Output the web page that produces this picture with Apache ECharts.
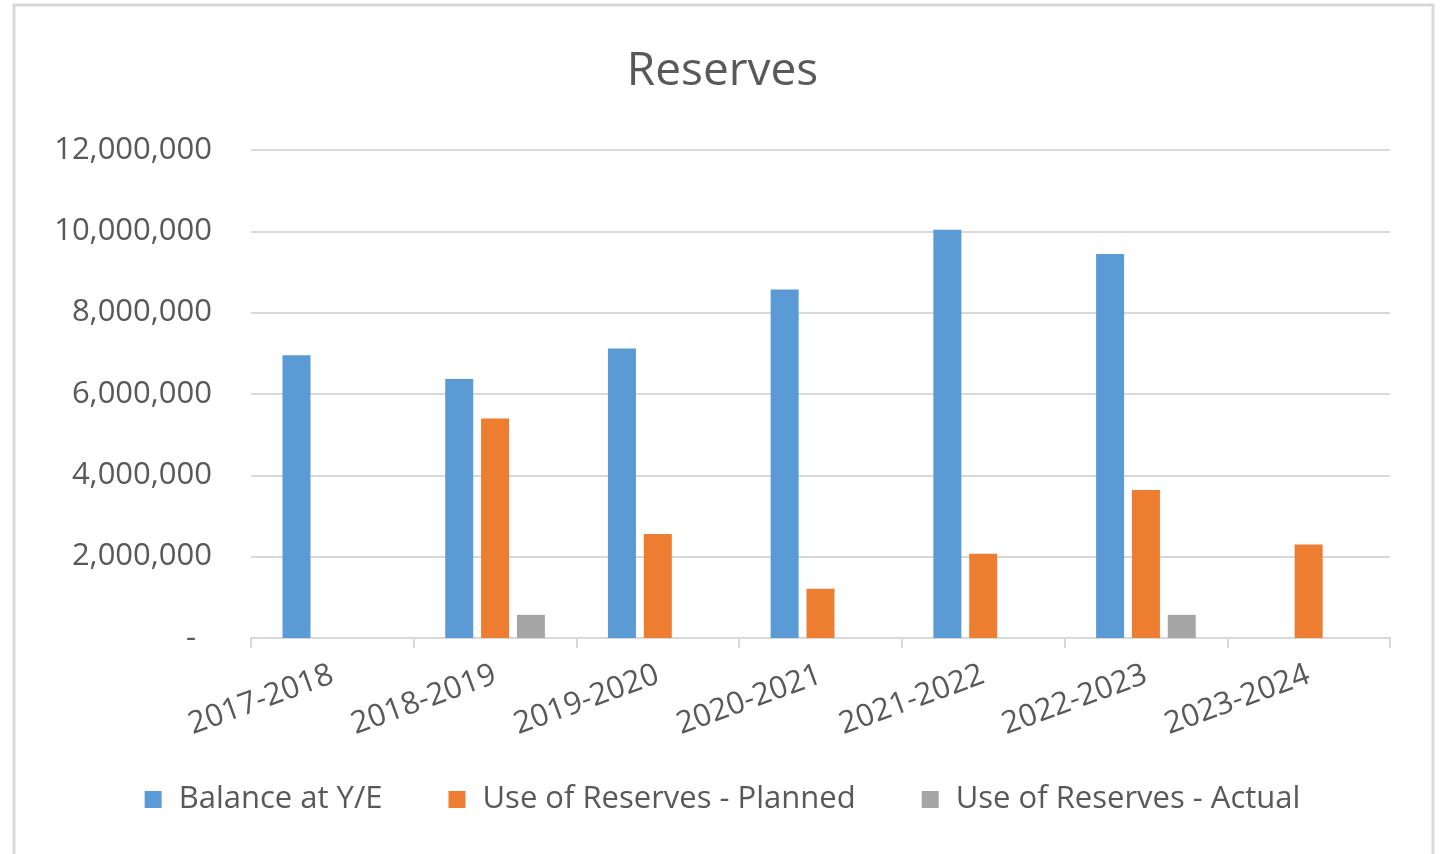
<!DOCTYPE html>
<html>
<head>
<meta charset="utf-8">
<script src="https://cdn.jsdelivr.net/npm/echarts@6/dist/echarts.min.js"></script>
<style>
html, body { margin: 0; padding: 0; background: #fff; }
#chart { width: 1445px; height: 854px; }
</style>
</head>
<body>
<div id="chart"></div>
<script>
// 年度
const years = ['2017-2018', '2018-2019', '2019-2020', '2020-2021', '2021-2022', '2022-2023', '2023-2024']
// 各系列数值
const balance = [6950000, 6370000, 7120000, 8570000, 10040000, 9440000, null]
const planned = [null, 5400000, 2560000, 1210000, 2070000, 3640000, 2300000]
const actual = [null, 570000, null, null, null, 570000, null]
const yTicks = [0, 2000000, 4000000, 6000000, 8000000, 10000000, 12000000]

const textColor = '#595959'
const font = 'Open Sans'

const myChart = echarts.init(document.getElementById('chart'))

const bar = (name, data, color) => ({
    name: name,
    type: 'bar',
    data: data,
    barWidth: 28,
    barGap: '28%',
    itemStyle: { color: color }
})

myChart.setOption({
    animation: false,
    textStyle: { fontFamily: font },
    title: {
        text: 'Reserves',
        left: 'center',
        top: 44,
        textStyle: { color: textColor, fontSize: 46, fontWeight: 'normal', fontFamily: font }
    },
    graphic: [{
        type: 'rect',
        shape: { x: 14, y: 5, width: 1419, height: 860 },
        style: { fill: 'none', stroke: '#d9d9d9', lineWidth: 3 },
        silent: true
    }],
    legend: {
        bottom: 34,
        left: 'center',
        itemWidth: 17,
        itemHeight: 17,
        itemGap: 66,
        icon: 'rect',
        textStyle: { color: textColor, fontSize: 31, fontFamily: font, padding: [0, 0, 0, 12] },
        data: ['Balance at Y/E', 'Use of Reserves - Planned', 'Use of Reserves - Actual']
    },
    grid: {
        left: 251,
        right: 55,
        top: 150,
        bottom: 216
    },
    xAxis: {
        type: 'category',
        data: years,
        axisLine: { lineStyle: { color: '#d9d9d9', width: 2 } },
        axisTick: { show: true, length: 10, lineStyle: { color: '#d9d9d9', width: 2 } },
        axisLabel: {
            color: textColor,
            fontSize: 31,
            fontFamily: font,
            rotate: 20,
            margin: 36,
            interval: 0
        }
    },
    yAxis: {
        type: 'value',
        min: 0,
        max: yTicks[yTicks.length - 1],
        interval: 2000000,
        axisLine: { show: false },
        axisTick: { show: false },
        splitLine: { lineStyle: { color: '#d9d9d9', width: 2 } },
        axisLabel: {
            color: textColor,
            fontSize: 31,
            fontFamily: font,
            margin: 39,
            formatter: function (v) {
                if (v === 0) return '-  '
                return v.toLocaleString('en-US')
            }
        }
    },
    series: [
        bar('Balance at Y/E', balance, '#5b9bd5'),
        bar('Use of Reserves - Planned', planned, '#ed7d31'),
        bar('Use of Reserves - Actual', actual, '#a5a5a5')
    ]
})
</script>
</body>
</html>
